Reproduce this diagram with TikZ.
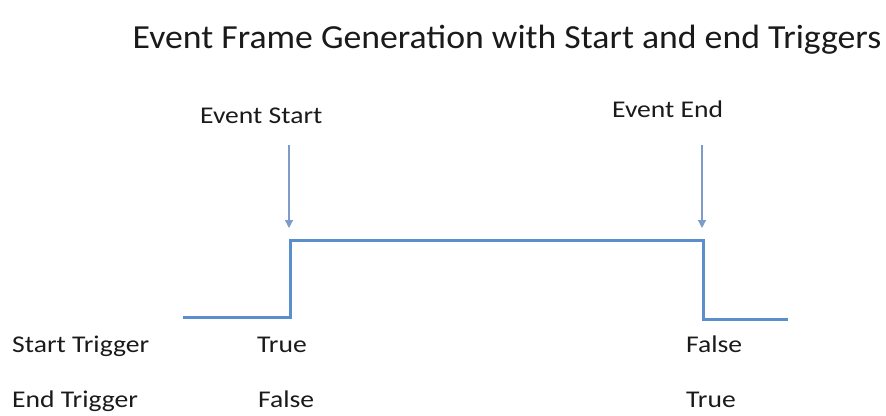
\documentclass[tikz,border=0pt]{standalone}
\usepackage{fontspec}
\setmainfont{Carlito}[FakeStretch=1.15]
\newfontfamily\titlefont{Carlito}[FakeStretch=1.06]
\usepackage{xcolor}
\usetikzlibrary{arrows.meta}
\definecolor{sig}{HTML}{5B8FCC}
\definecolor{trig}{HTML}{7E9CC9}
\definecolor{ink}{HTML}{1A1A1A}
\tikzset{
  ttl/.style     = {font=\titlefont\fontsize{33.7}{38}\selectfont, text=ink, inner sep=0pt},
  lbl/.style     = {font=\fontsize{24}{28}\selectfont, text=ink, inner sep=0pt, anchor=base west},
  signal/.style  = {line width=3pt, draw=sig},
  trigarrow/.style = {-{Triangle[length=8pt,width=8pt]}, line width=1.2pt, draw=trig},
}
\begin{document}
\begin{tikzpicture}[x=1pt,y=-1pt]
  \useasboundingbox (0,0) rectangle (886,415);

  % title
  \node[ttl, anchor=base] (title) at (507,48) {Event Frame Generation with Start and end Triggers};

  % event labels
  \node[lbl] (evstart) at (200,123) {Event Start};
  \node[lbl] (evend)   at (612,117) {Event End};

  % signal corners
  \coordinate (loleft)  at (183,317);
  \coordinate (risetop) at (290.5,240.5);
  \coordinate (falltop) at (703,240.5);
  \coordinate (loright) at (788,319);
  \draw[signal] (loleft) -| (risetop) -- (falltop) |- (loright);

  % trigger arrows
  \coordinate (stail) at (289,145);
  \coordinate (stip)  at (289,228);
  \coordinate (etail) at (702,145);
  \coordinate (etip)  at (702,228);
  \draw[trigarrow] (stail) -- (stip);
  \draw[trigarrow] (etail) -- (etip);

  % trigger table
  \node[lbl] (starttrig) at (12,352)  {Start Trigger};
  \node[lbl] (sttrue)    at (257,352) {True};
  \node[lbl] (stfalse)   at (686,352) {False};
  \node[lbl] (endtrig)   at (12,407)  {End Trigger};
  \node[lbl] (etfalse)   at (258,407) {False};
  \node[lbl] (ettrue)    at (686,407) {True};
\end{tikzpicture}
\end{document}
